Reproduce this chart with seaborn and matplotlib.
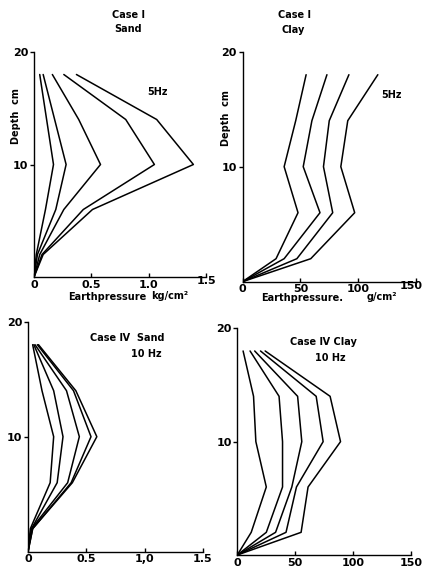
import matplotlib
matplotlib.use("Agg")
import matplotlib.pyplot as plt
import matplotlib.transforms as mtransforms
import seaborn as sns
import pandas as pd

sns.set_style("ticks")
plt.rcParams["font.family"] = ["DejaVu Sans"]
plt.rcParams.update({
    "text.color": "black",
    "axes.labelcolor": "black",
    "axes.edgecolor": "black",
    "xtick.color": "black",
    "ytick.color": "black",
})

# depth of the measuring points (cm)
depth = [0, 2, 6, 10, 14, 18]

# Case I, sand, 5 Hz  (kg/cm^2)
sand_5hz = [
    [0, 0.02, 0.10, 0.17, 0.11, 0.05],
    [0, 0.03, 0.19, 0.28, 0.18, 0.08],
    [0, 0.05, 0.26, 0.58, 0.39, 0.16],
    [0, 0.07, 0.43, 1.05, 0.80, 0.26],
    [0, 0.08, 0.51, 1.39, 1.07, 0.37],
]
# Case I, clay, 5 Hz  (g/cm^2)
clay_5hz = [
    [0, 29, 48, 36, 46, 55],
    [0, 36, 67, 52.5, 60, 73],
    [0, 47, 78, 70, 75, 92],
    [0, 59, 97, 85, 91, 117],
]
# Case IV, sand, 10 Hz  (kg/cm^2)
sand_10hz = [
    [0, 0.02, 0.19, 0.22, 0.12, 0.04],
    [0, 0.03, 0.25, 0.30, 0.22, 0.05],
    [0, 0.03, 0.34, 0.44, 0.33, 0.06],
    [0, 0.04, 0.37, 0.54, 0.39, 0.08],
    [0, 0.04, 0.38, 0.59, 0.41, 0.09],
]
# Case IV, clay, 10 Hz  (g/cm^2)
clay_10hz = [
    [0, 12, 25, 16, 14, 5],
    [0, 25, 39, 39, 36, 11],
    [0, 33, 47, 55.6, 52, 15],
    [0, 42, 51, 74, 68, 20],
    [0, 55, 61, 89, 80, 24],
]

sand_ticks = [0, 0.5, 1.0, 1.5]
clay_ticks = [0, 50, 100, 150]
sand_ticklabels_top = ["0", "0.5", "1.0", "1.5"]
sand_ticklabels_bottom = ["0", "0.5", "1,0", "1.5"]
clay_ticklabels = ["0", "50", "100", "150"]

W, H = 424, 575
fig = plt.figure(figsize=(W / 100, H / 100), dpi=100)


def box(x0, x1, y0, y1):
    """axes rectangle from pixel corners (x of value 0 / max, y of depth 0 / 20)"""
    return [x0 / W, 1 - y0 / H, (x1 - x0) / W, (y0 - y1) / H]


def to_frame(curves):
    rows = []
    for i, c in enumerate(curves):
        for d, p in zip(depth, c):
            rows.append({"curve": i, "depth": d, "pressure": p})
    return pd.DataFrame(rows)


def panel(rect, curves, xmax, ticks, ticklabels):
    ax = fig.add_axes(rect)
    sns.lineplot(data=to_frame(curves), x="pressure", y="depth", units="curve",
                 estimator=None, sort=False, color="black", lw=1.1, ax=ax)
    ax.set_xlim(0, xmax)
    ax.set_ylim(0, 20)
    ax.set_xticks(ticks)
    ax.set_xticklabels(ticklabels)
    ax.set_yticks([10, 20])
    ax.set_yticklabels(["10", "20"])
    ax.set_xlabel("")
    ax.set_ylabel("")
    sns.despine(ax=ax)
    for s in ("left", "bottom"):
        ax.spines[s].set_linewidth(1.0)
    ax.tick_params(axis="x", direction="in", length=3, width=1.0, pad=2,
                   labelsize=8)
    ax.tick_params(axis="y", direction="out", length=3, width=1.0, pad=1,
                   labelsize=8)
    for t in ax.get_xticklabels() + ax.get_yticklabels():
        t.set_fontweight("bold")
    return ax


def nudge(label, dx_px, dy_px):
    label.set_transform(label.get_transform()
                        + mtransforms.ScaledTranslation(dx_px / 100, dy_px / 100,
                                                        fig.dpi_scale_trans))


ax1 = panel(box(34, 206, 277, 52), sand_5hz, 1.5, sand_ticks, sand_ticklabels_top)
ax2 = panel(box(242.5, 416, 281.7, 51.7), clay_5hz, 150, clay_ticks, clay_ticklabels)
ax3 = panel(box(28, 203, 551.7, 321.7), sand_10hz, 1.5, sand_ticks, sand_ticklabels_bottom)
ax4 = panel(box(237.3, 411.3, 555, 328.3), clay_10hz, 150, clay_ticks, clay_ticklabels)

# the last label of the upper clay axis sits raised and pulled in from the edge
nudge(ax2.get_xticklabels()[-1], -5, 3)
# the last label of the upper sand axis sits raised above the unit
nudge(ax1.get_xticklabels()[-1], 0, 4)


def ftext(x, y, s, **kw):
    kw.setdefault("fontsize", 7)
    kw.setdefault("fontweight", "bold")
    fig.text(x / W, 1 - y / H, s, ha="center", va="center", **kw)


# panel titles
ftext(128, 15, "Case I")
ftext(128, 29, "Sand")
ftext(295, 15, "Case I")
ftext(293, 30, "Clay")
ftext(158, 92, "5Hz")
ftext(391, 95, "5Hz")
ftext(127, 338, "Case Ⅳ  Sand")
ftext(146, 354, "10 Hz")
ftext(323, 342, "Case Ⅳ Clay")
ftext(330, 358, "10 Hz")

# axis titles
ftext(16, 116, "Depth  cm", rotation=90)
ftext(226, 118, "Depth  cm", rotation=90)
ftext(107, 297, "Earthpressure")
ftext(170, 296, "kg/cm²")
ftext(302, 298, "Earthpressure.")
ftext(382, 297, "g/cm²")

fig.savefig("out.png", dpi=100)
